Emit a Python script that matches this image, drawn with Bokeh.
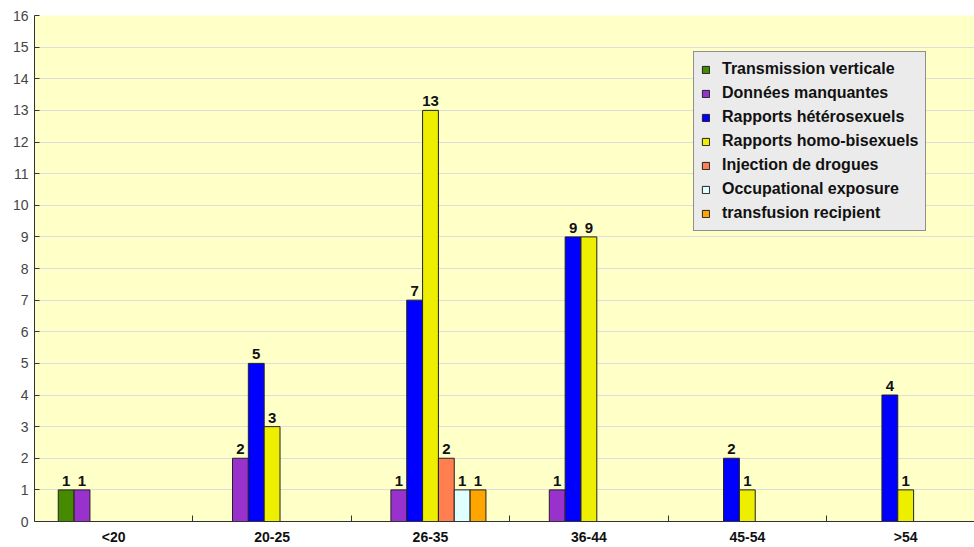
from bokeh.plotting import figure
from bokeh.models import Range1d, FixedTicker, ColumnDataSource, Legend, LegendItem
from bokeh.embed import file_html
from bokeh.resources import INLINE
from bokeh.core.properties import value

categories = ["<20", "20-25", "26-35", "36-44", "45-54", ">54"]
series_names = [
    "Transmission verticale",
    "Données manquantes",
    "Rapports hétérosexuels",
    "Rapports homo-bisexuels",
    "Injection de drogues",
    "Occupational exposure",
    "transfusion recipient",
]
transmission_verticale = [1, 0, 0, 0, 0, 0]
donnees_manquantes = [1, 2, 1, 1, 0, 0]
rapports_hetero = [0, 5, 7, 9, 2, 4]
rapports_homo_bi = [0, 3, 13, 9, 1, 1]
injection_drogues = [0, 0, 2, 0, 0, 0]
occupational_exposure = [0, 0, 1, 0, 0, 0]
transfusion_recipient = [0, 0, 1, 0, 0, 0]
series_values = [
    transmission_verticale,
    donnees_manquantes,
    rapports_hetero,
    rapports_homo_bi,
    injection_drogues,
    occupational_exposure,
    transfusion_recipient,
]
colors = ["#468A00", "#9932CC", "#0000FF", "#EEEE00", "#FF7F50", "#E0FFFF", "#FFA500"]
y_ticks = list(range(0, 17))

FONT = "Liberation Sans"
n_series = len(series_names)
slot = 0.1

p = figure(
    width=974, height=547,
    x_range=Range1d(0, 940 / 158.4), y_range=Range1d(0, 16),
    output_backend="svg", toolbar_location=None,
    min_border_left=34, min_border_right=0, min_border_top=15, min_border_bottom=25,
    background_fill_color="#FFFFC8", border_fill_color="white",
)
p.outline_line_color = None

items = []
for j, (name, vals, col) in enumerate(zip(series_names, series_values, colors)):
    xs, ys, labels = [], [], []
    for i, v in enumerate(vals):
        if v > 0:
            xs.append(i + 0.5 + (j - (n_series - 1) / 2) * slot)
            ys.append(v)
            labels.append(str(v))
    src = ColumnDataSource(dict(x=xs, top=ys, label=labels))
    r = p.vbar(x="x", top="top", bottom=0, width=slot, source=src,
               fill_color=col, line_color="#222222", line_width=1)
    p.text(x="x", y="top", text="label", source=src, text_align="center",
           text_baseline="bottom", y_offset=-4, text_font=value(FONT),
           text_font_size="15px", text_font_style="bold", text_color="#111111")
    items.append(LegendItem(label=name, renderers=[r]))

legend = Legend(items=items, location=(659, 290))
legend.background_fill_color = "#EBEBEB"
legend.background_fill_alpha = 1
legend.border_line_color = "#333333"
legend.border_line_width = 1
legend.label_text_font = FONT
legend.label_text_font_size = "16px"
legend.label_text_font_style = "bold"
legend.label_text_color = "#111111"
legend.glyph_width = 9
legend.glyph_height = 9
legend.label_standoff = 12
legend.padding = 7
legend.spacing = 4
legend.label_height = 20
legend.margin = 0
p.add_layout(legend)

# x axis
xa = p.xaxis[0]
xa.ticker = FixedTicker(ticks=[i + 0.5 for i in range(len(categories))],
                        minor_ticks=list(range(1, len(categories))))
xa.major_label_overrides = {i + 0.5: c for i, c in enumerate(categories)}
xa.major_tick_line_color = None
xa.major_tick_in = 0
xa.major_tick_out = 0
xa.minor_tick_in = 6
xa.minor_tick_out = 0
xa.minor_tick_line_color = "#333333"
xa.axis_line_color = "#333333"
xa.major_label_text_font = FONT
xa.major_label_text_font_size = "14px"
xa.major_label_text_font_style = "bold"
xa.major_label_text_color = "#111111"
xa.major_label_standoff = 7

# y axis
ya = p.yaxis[0]
ya.ticker = FixedTicker(ticks=y_ticks)
ya.major_tick_in = 5
ya.major_tick_out = 0
ya.minor_tick_line_color = None
ya.major_tick_line_color = "#333333"
ya.axis_line_color = "#333333"
ya.major_label_text_font = FONT
ya.major_label_text_font_size = "14px"
ya.major_label_text_color = "#444444"
ya.major_label_standoff = 6

p.xgrid.grid_line_color = None
p.ygrid.ticker = FixedTicker(ticks=y_ticks)
p.ygrid.grid_line_color = "#DDDDDD"
p.ygrid.grid_line_width = 1

open("out.html", "w").write(file_html(p, INLINE))
